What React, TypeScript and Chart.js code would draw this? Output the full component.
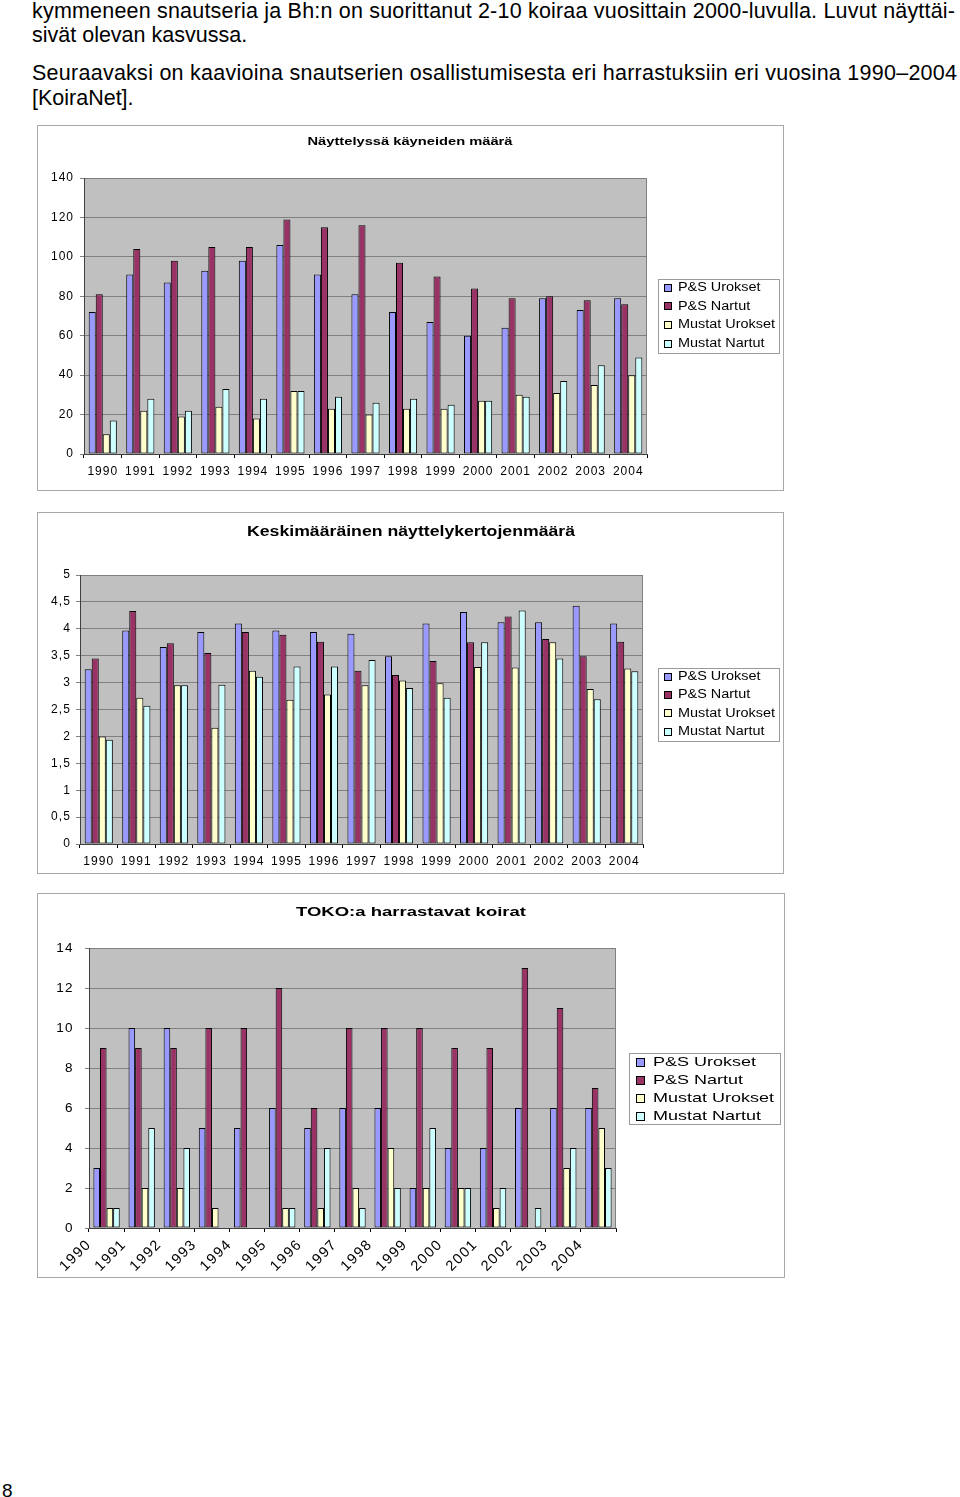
import React, { useEffect, useLayoutEffect, useRef } from 'react';
import { Chart, registerables } from 'chart.js';

Chart.register(...registerables);

const FONT = '"Liberation Sans", Arial, Helvetica, sans-serif';

// ---------- data ----------
const YEARS = ['1990', '1991', '1992', '1993', '1994', '1995', '1996', '1997', '1998', '1999', '2000', '2001', '2002', '2003', '2004'];
const SERIES_NAMES = ['P&S Urokset', 'P&S Nartut', 'Mustat Urokset', 'Mustat Nartut'];
const SERIES_COLORS = ['#9999ff', '#993366', '#ffffcc', '#ccffff'];

// Chart 1: Näyttelyssä käyneiden määrä
const SHOW_PS_UROKSET = [72, 91, 87, 93, 98, 106, 91, 81, 72, 67, 60, 64, 79, 73, 79];
const SHOW_PS_NARTUT = [81, 104, 98, 105, 105, 119, 115, 116, 97, 90, 84, 79, 80, 78, 76];
const SHOW_MUSTAT_UROKSET = [10, 22, 19, 24, 18, 32, 23, 20, 23, 23, 27, 30, 31, 35, 40];
const SHOW_MUSTAT_NARTUT = [17, 28, 22, 33, 28, 32, 29, 26, 28, 25, 27, 29, 37, 45, 49];

// Chart 2: Keskimääräinen näyttelykertojenmäärä
const AVG_PS_UROKSET = [3.25, 3.97, 3.66, 3.94, 4.1, 3.97, 3.94, 3.91, 3.49, 4.1, 4.31, 4.12, 4.12, 4.43, 4.1];
const AVG_PS_NARTUT = [3.45, 4.33, 3.73, 3.55, 3.94, 3.89, 3.76, 3.22, 3.14, 3.4, 3.75, 4.23, 3.81, 3.49, 3.76];
const AVG_MUSTAT_UROKSET = [2.0, 2.72, 2.95, 2.16, 3.22, 2.68, 2.78, 2.95, 3.04, 2.99, 3.29, 3.28, 3.75, 2.88, 3.26];
const AVG_MUSTAT_NARTUT = [1.94, 2.57, 2.95, 2.96, 3.11, 3.3, 3.3, 3.42, 2.9, 2.72, 3.75, 4.34, 3.45, 2.69, 3.21];
const AVG_Y_TICKS = ['0', '0,5', '1', '1,5', '2', '2,5', '3', '3,5', '4', '4,5', '5'];

// Chart 3: TOKO:a harrastavat koirat
const TOKO_PS_UROKSET = [3, 10, 10, 5, 5, 6, 5, 6, 6, 2, 4, 4, 6, 6, 6];
const TOKO_PS_NARTUT = [9, 9, 9, 10, 10, 12, 6, 10, 10, 10, 9, 9, 13, 11, 7];
const TOKO_MUSTAT_UROKSET = [1, 2, 2, 1, 0, 1, 1, 2, 4, 2, 2, 1, 0, 3, 5];
const TOKO_MUSTAT_NARTUT = [1, 5, 4, 0, 0, 1, 4, 1, 2, 5, 2, 2, 1, 4, 3];
const TOKO_X_TICKS = [...YEARS, ''];

const TITLE1 = 'Näyttelyssä käyneiden määrä';
const TITLE2 = 'Keskimääräinen näyttelykertojenmäärä';
const TITLE3 = 'TOKO:a harrastavat koirat';

const TEXT_LINES = [
  'kymmeneen snautseria ja Bh:n on suorittanut 2-10 koiraa vuosittain 2000-luvulla. Luvut näyttäi-',
  'sivät olevan kasvussa.',
  'Seuraavaksi on kaavioina snautserien osallistumisesta eri harrastuksiin eri vuosina 1990–2004',
  '[KoiraNet].',
];

// ---------- plugin ----------
const decoPlugin = {
  id: 'deco',
  beforeUpdate(chart: any, _a: any, opts: any) {
    chart.ctx.letterSpacing = opts.letterSpacing || '0px';
  },
  beforeDraw(chart: any, _a: any, opts: any) {
    const { ctx, chartArea: a } = chart;
    ctx.save();
    ctx.fillStyle = '#ffffff';
    ctx.fillRect(0, 0, chart.width, chart.height);
    ctx.fillStyle = '#c0c0c0';
    ctx.fillRect(a.left, a.top, a.right - a.left, a.bottom - a.top);
    ctx.strokeStyle = '#808080';
    ctx.lineWidth = 1;
    ctx.beginPath();
    ctx.moveTo(Math.round(a.right) - 0.5, a.top);
    ctx.lineTo(Math.round(a.right) - 0.5, a.bottom);
    ctx.stroke();
    ctx.restore();
    ctx.letterSpacing = opts.letterSpacing || '0px';
  },
  afterDraw(chart: any, _a: any, opts: any) {
    const ctx = chart.ctx;
    ctx.save();
    ctx.letterSpacing = '0px';
    // title
    const T = opts.title;
    ctx.font = `bold ${T.size}px ${FONT}`;
    const tw = ctx.measureText(T.text).width;
    ctx.save();
    ctx.translate(T.x, T.y);
    ctx.scale(T.w / tw, 1);
    ctx.fillStyle = '#000';
    ctx.textAlign = 'center';
    ctx.textBaseline = 'middle';
    ctx.fillText(T.text, 0, 0);
    ctx.restore();
    // legend
    const L = opts.legend;
    ctx.strokeStyle = '#9a9a9a';
    ctx.lineWidth = 1;
    ctx.strokeRect(L.x + 0.5, L.y + 0.5, L.w, L.h);
    ctx.font = `${L.size}px ${FONT}`;
    const labels = chart.data.datasets.map((d: any) => d.label);
    const longest = Math.max(...labels.map((t: string) => ctx.measureText(t).width));
    const k = L.fitW / longest;
    chart.data.datasets.forEach((ds: any, i: number) => {
      const cy = L.row0 + i * L.rowH;
      const by = Math.round(cy - L.box / 2);
      ctx.fillStyle = ds.backgroundColor;
      ctx.fillRect(L.boxX, by, L.box, L.box);
      ctx.strokeStyle = '#000';
      ctx.strokeRect(L.boxX + 0.5, by + 0.5, L.box - 1, L.box - 1);
      ctx.save();
      ctx.translate(L.textX, cy);
      ctx.scale(k, 1);
      ctx.fillStyle = '#000';
      ctx.textAlign = 'left';
      ctx.textBaseline = 'middle';
      ctx.fillText(ds.label, 0, 0);
      ctx.restore();
    });
    ctx.restore();
  },
};

function makeDatasets(series: number[][]) {
  return series.map((data, i) => ({
    label: SERIES_NAMES[i],
    data,
    backgroundColor: SERIES_COLORS[i],
    borderColor: '#000000',
    borderWidth: (c: any) => (c.raw === 0 ? 0 : 1),
    borderSkipped: false,
    categoryPercentage: 0.75,
    barPercentage: 1.0,
    xAxisID: 'x',
  }));
}

function ChartCanvas({ width, height, config }: { width: number; height: number; config: any }) {
  const ref = useRef<HTMLCanvasElement>(null);
  useEffect(() => {
    if (!ref.current) return;
    const chart = new Chart(ref.current, config);
    return () => chart.destroy();
  }, []);
  return <canvas ref={ref} width={width} height={height} style={{ display: 'block', width, height }} />;
}

function baseOptions(p: any) {
  return {
    responsive: false,
    animation: false,
    events: [],
    layout: { padding: p.padding },
    plugins: {
      legend: { display: false },
      title: { display: false },
      tooltip: { enabled: false },
      deco: p.deco,
    },
  };
}

const chart1Config = {
  type: 'bar',
  data: {
    labels: YEARS,
    datasets: makeDatasets([SHOW_PS_UROKSET, SHOW_PS_NARTUT, SHOW_MUSTAT_UROKSET, SHOW_MUSTAT_NARTUT]),
  },
  plugins: [decoPlugin],
  options: {
    ...baseOptions({
      padding: { left: 6, right: 136, top: 52, bottom: 6 },
      deco: {
        letterSpacing: '1px',
        title: { text: TITLE1, x: 372, y: 16, size: 11.5, w: 205 },
        legend: { x: 620, y: 153, w: 121, h: 74, size: 12, fitW: 97, row0: 161.5, rowH: 18.7, box: 8, boxX: 626, textX: 640 },
      },
    }),
    scales: {
      x: {
        grid: { display: true, drawOnChartArea: false, tickLength: 4, color: '#000' },
        border: { display: true, color: '#404040' },
        ticks: { font: { size: 12, family: FONT }, color: '#000', padding: 6, maxRotation: 0, autoSkip: false },
        afterFit: (s: any) => { s.height = 30; },
      },
      y: {
        min: 0,
        max: 140,
        ticks: { stepSize: 20, font: { size: 12, family: FONT }, color: '#000', padding: 6 },
        grid: { color: '#808080', tickLength: 4 },
        border: { color: '#404040' },
        afterFit: (s: any) => { s.width = 40; },
      },
    },
  },
};

const chart2Config = {
  type: 'bar',
  data: {
    labels: YEARS,
    datasets: makeDatasets([AVG_PS_UROKSET, AVG_PS_NARTUT, AVG_MUSTAT_UROKSET, AVG_MUSTAT_NARTUT]),
  },
  plugins: [decoPlugin],
  options: {
    ...baseOptions({
      padding: { left: 4, right: 140, top: 62, bottom: 5 },
      deco: {
        letterSpacing: '1.1px',
        title: { text: TITLE2, x: 373, y: 19, size: 14, w: 328 },
        legend: { x: 620, y: 155, w: 121, h: 73, size: 12, fitW: 97, row0: 163.5, rowH: 18.4, box: 8, boxX: 626, textX: 640 },
      },
    }),
    scales: {
      x: {
        grid: { display: true, drawOnChartArea: false, tickLength: 4, color: '#000' },
        border: { display: true, color: '#404040' },
        ticks: { font: { size: 12, family: FONT }, color: '#000', padding: 6, maxRotation: 0, autoSkip: false },
        afterFit: (s: any) => { s.height = 24; },
      },
      y: {
        min: 0,
        max: 5,
        ticks: {
          stepSize: 0.5,
          font: { size: 12, family: FONT },
          color: '#000',
          padding: 5,
          callback: (_v: any, i: number) => AVG_Y_TICKS[i],
        },
        grid: { color: '#808080', tickLength: 4 },
        border: { color: '#404040' },
        afterFit: (s: any) => { s.width = 38; },
      },
    },
  },
};

const chart3Config = {
  type: 'bar',
  data: {
    labels: YEARS,
    datasets: makeDatasets([TOKO_PS_UROKSET, TOKO_PS_NARTUT, TOKO_MUSTAT_UROKSET, TOKO_MUSTAT_NARTUT]),
  },
  plugins: [decoPlugin],
  options: {
    ...baseOptions({
      padding: { left: 6, right: 168, top: 54, bottom: 5 },
      deco: {
        letterSpacing: '1.4px',
        title: { text: TITLE3, x: 373, y: 18, size: 13.5, w: 230 },
        legend: { x: 591, y: 159, w: 151, h: 71, size: 13.5, fitW: 121, row0: 168, rowH: 18, box: 9, boxX: 598, textX: 615 },
      },
    }),
    scales: {
      x: {
        grid: { display: true, drawOnChartArea: false, tickLength: 4, color: '#000' },
        border: { display: true, color: '#404040' },
        ticks: { display: false },
        afterFit: (s: any) => { s.height = 4; },
      },
      x2: {
        type: 'category',
        labels: TOKO_X_TICKS,
        offset: false,
        position: 'bottom',
        weight: 1,
        grid: { display: false },
        border: { display: false },
        ticks: { autoSkip: false, minRotation: 45, maxRotation: 45, font: { size: 14.5, family: FONT }, color: '#000', padding: -4 },
        afterFit: (s: any) => { s.height = 40; },
      },
      y: {
        min: 0,
        max: 14,
        ticks: { stepSize: 2, font: { size: 13.5, family: FONT }, color: '#000', padding: 11 },
        grid: { color: '#808080', tickLength: 4 },
        border: { color: '#404040' },
        afterFit: (s: any) => { s.width = 45; },
      },
    },
  },
};

function FitLine({ text, top, width }: { text: string; top: number; width?: number }) {
  const ref = useRef<HTMLDivElement>(null);
  useLayoutEffect(() => {
    const el = ref.current;
    if (!el || !width) return;
    el.style.letterSpacing = '0px';
    const w = el.getBoundingClientRect().width;
    const n = text.length - 1;
    if (n > 0) el.style.letterSpacing = (width - w) / n + 'px';
  }, []);
  return (
    <div
      ref={ref}
      style={{
        position: 'absolute',
        left: 32,
        top,
        whiteSpace: 'nowrap',
        fontFamily: FONT,
        fontSize: 21.5,
        lineHeight: '24px',
        color: '#000',
      }}
    >
      {text}
    </div>
  );
}

function Frame({ left, top, w, h, config }: any) {
  return (
    <div
      style={{
        position: 'absolute',
        left,
        top,
        width: w,
        height: h,
        border: '1px solid #a8a8a8',
        boxSizing: 'border-box',
        background: '#fff',
      }}
    >
      <ChartCanvas width={w - 2} height={h - 2} config={config} />
    </div>
  );
}

export default function App() {
  return (
    <div style={{ position: 'absolute', left: 0, top: 0, width: 960, height: 1497, background: '#fff', overflow: 'hidden' }}>
      <FitLine text={TEXT_LINES[0]} top={-1} width={923} />
      <FitLine text={TEXT_LINES[1]} top={23} />
      <FitLine text={TEXT_LINES[2]} top={61} width={925} />
      <FitLine text={TEXT_LINES[3]} top={85.5} />
      <Frame left={37} top={125} w={747} h={366} config={chart1Config} />
      <Frame left={37} top={512} w={747} h={362} config={chart2Config} />
      <Frame left={37} top={893} w={748} h={385} config={chart3Config} />
      <div style={{ position: 'absolute', left: 2, top: 1481, fontFamily: FONT, fontSize: 19, lineHeight: '19px' }}>8</div>
    </div>
  );
}
